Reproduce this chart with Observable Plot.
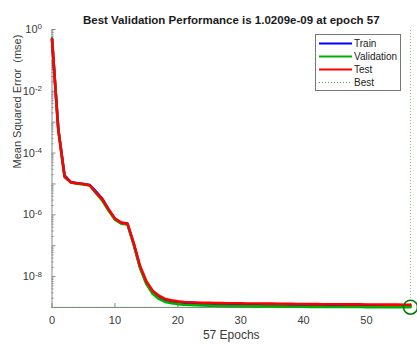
<!DOCTYPE html>
<html><head><meta charset="utf-8">
<script src="https://cdn.jsdelivr.net/npm/d3@7"></script>
<script src="https://cdn.jsdelivr.net/npm/@observablehq/plot@0.6"></script>
<style>
body{margin:0;background:#fff;}
#chart svg{font-family:"Liberation Sans",Arial,sans-serif;background:#fff;}
</style></head><body><div id="chart"></div>
<script>
const titleText = "Best Validation Performance is 1.0209e-09 at epoch 57";
const xLabel = "57 Epochs";
const yLabel = "Mean Squared Error  (mse)";
const seriesNames = ["Train", "Validation", "Test"];
const seriesColors = ["#0000ff", "#00b000", "#ff0000"];
const bestLabel = "Best";
const bestEpoch = 57;
const bestPerf = 1.0209e-9;
const xTicks = [0, 10, 20, 30, 40, 50];
const yTicks = [1, 1e-2, 1e-4, 1e-6, 1e-8];
const yTickLabels = ["10^0", "10^-2", "10^-4", "10^-6", "10^-8"];

const trainPerf = [0.49, 6.2e-4, 1.9e-5, 1.15e-5, 1.05e-5, 1.0e-5, 9.2e-6, 5.6e-6, 3.3e-6, 1.5e-6,
 7.4e-7, 5.5e-7, 5.1e-7, 1.15e-7, 2.0e-8, 6.2e-9, 3.0e-9, 2.1e-9, 1.7e-9, 1.55e-9,
 1.45e-9, 1.38e-9, 1.35e-9, 1.32e-9, 1.30e-9, 1.28e-9, 1.27e-9, 1.26e-9, 1.25e-9, 1.24e-9,
 1.23e-9, 1.22e-9, 1.21e-9, 1.21e-9, 1.20e-9, 1.19e-9, 1.19e-9, 1.18e-9, 1.18e-9, 1.17e-9,
 1.17e-9, 1.16e-9, 1.16e-9, 1.16e-9, 1.15e-9, 1.15e-9, 1.15e-9, 1.14e-9, 1.14e-9, 1.14e-9,
 1.13e-9, 1.13e-9, 1.13e-9, 1.13e-9, 1.12e-9, 1.12e-9, 1.12e-9, 1.12e-9];

const valPerf = [0.52, 5.6e-4, 1.68e-5, 1.11e-5, 1.02e-5, 9.7e-6, 8.9e-6, 5.0e-6, 2.9e-6, 1.35e-6,
 7.0e-7, 5.2e-7, 4.9e-7, 1.05e-7, 1.9e-8, 5.8e-9, 2.8e-9, 1.9e-9, 1.52e-9, 1.37e-9,
 1.29e-9, 1.23e-9, 1.20e-9, 1.18e-9, 1.16e-9, 1.15e-9, 1.14e-9, 1.13e-9, 1.12e-9, 1.11e-9,
 1.10e-9, 1.10e-9, 1.09e-9, 1.09e-9, 1.08e-9, 1.08e-9, 1.07e-9, 1.07e-9, 1.06e-9, 1.06e-9,
 1.06e-9, 1.05e-9, 1.05e-9, 1.05e-9, 1.04e-9, 1.04e-9, 1.04e-9, 1.04e-9, 1.035e-9, 1.035e-9,
 1.03e-9, 1.03e-9, 1.03e-9, 1.028e-9, 1.026e-9, 1.024e-9, 1.022e-9, 1.0209e-9];

const testPerf = [0.49, 5.6e-4, 1.74e-5, 1.12e-5, 1.05e-5, 1.0e-5, 9.1e-6, 5.2e-6, 3.2e-6, 1.5e-6,
 7.6e-7, 5.6e-7, 5.2e-7, 1.2e-7, 2.2e-8, 7.1e-9, 3.5e-9, 2.4e-9, 1.9e-9, 1.7e-9,
 1.58e-9, 1.51e-9, 1.48e-9, 1.45e-9, 1.43e-9, 1.41e-9, 1.40e-9, 1.39e-9, 1.38e-9, 1.37e-9,
 1.36e-9, 1.35e-9, 1.35e-9, 1.34e-9, 1.33e-9, 1.33e-9, 1.32e-9, 1.31e-9, 1.31e-9, 1.30e-9,
 1.30e-9, 1.29e-9, 1.29e-9, 1.28e-9, 1.28e-9, 1.27e-9, 1.27e-9, 1.26e-9, 1.26e-9, 1.26e-9,
 1.25e-9, 1.25e-9, 1.25e-9, 1.24e-9, 1.24e-9, 1.24e-9, 1.23e-9, 1.23e-9];

const perfBySeries = [trainPerf, valPerf, testPerf];
const rows = [];
seriesNames.forEach((s, si) => perfBySeries[si].forEach((v, i) => rows.push({epoch: i, perf: v, series: s})));

const minorY = [];
for (let k = -9; k < 0; k++) for (let m = 2; m < 10; m++) minorY.push(m * Math.pow(10, k));
const oddDecades = [1e-1, 1e-3, 1e-5, 1e-7, 1e-9];

const axisColor = "#8a8a8a";
const textColor = "#3a3a3a";
const yMin = 1e-9, yMax = 1, xMin = 0, xMax = 57;

const plot = Plot.plot({
  width: 417, height: 346,
  marginLeft: 51.5, marginRight: 7, marginTop: 29, marginBottom: 39,
  x: {domain: [xMin, xMax], axis: null},
  y: {type: "log", domain: [yMin, yMax], axis: null},
  color: {domain: seriesNames, range: seriesColors},
  style: {fontFamily: "'Liberation Sans', Arial, sans-serif", background: "#fff"},
  marks: [
    Plot.ruleX([xMin], {y1: yMin, y2: yMax, stroke: axisColor, strokeWidth: 1}),
    Plot.ruleY([yMin], {x1: xMin, x2: xMax, stroke: axisColor, strokeWidth: 1}),
    Plot.axisX({ticks: xTicks, tickSize: -4, tickFormat: () => "", stroke: axisColor, label: null}),
    Plot.axisX({ticks: xTicks, tickSize: 0, tickPadding: 9, fontSize: 11, fill: textColor, label: null}),
    Plot.axisY({ticks: yTicks.concat(oddDecades), tickSize: -4, tickFormat: () => "", stroke: axisColor, label: null}),
    Plot.axisY({ticks: minorY, tickSize: -2, tickFormat: () => "", stroke: axisColor, label: null}),
    Plot.axisY({ticks: yTicks, tickSize: 0, tickPadding: 10, fontSize: 11, fill: textColor, label: null,
      tickFormat: d => yTickLabels[yTicks.indexOf(d)]}),
    Plot.ruleY([bestPerf], {x1: xMin, x2: bestEpoch, stroke: "#3cae3c", strokeWidth: 1, strokeDasharray: "1,2"}),
    Plot.ruleX([bestEpoch], {y1: yMin, y2: yMax, stroke: "#3cae3c", strokeWidth: 1, strokeDasharray: "1,2", strokeOpacity: 0.7}),
    Plot.line(rows, {x: "epoch", y: "perf", stroke: "series", z: "series", strokeWidth: 2.6}),
    Plot.dot([{epoch: bestEpoch, perf: bestPerf}], {x: "epoch", y: "perf", r: 7, stroke: "#007a00", strokeWidth: 1.6, fill: "none"}),
    Plot.text([titleText], {frameAnchor: "top", dy: -14, fontSize: 11.5, fontWeight: "bold", fill: "#1a1a1a"}),
    Plot.text([xLabel], {frameAnchor: "bottom", dy: 31, fontSize: 12, fill: textColor}),
    Plot.text([yLabel], {frameAnchor: "left", dx: -35, rotate: -90, fontSize: 11, fill: textColor})
  ]
});
document.getElementById("chart").appendChild(plot);

const svg = d3.select(plot);
svg.selectAll("text").each(function () {
  const t = d3.select(this);
  const s = t.text();
  if (/^10\^-?\d+$/.test(s)) {
    const [base, exp] = s.split("^");
    t.text(base);
    t.append("tspan").attr("dy", "-0.45em").attr("font-size", "8px").text(exp);
  }
});

const lg = svg.append("g").attr("font-family", "'Liberation Sans', Arial, sans-serif")
  .attr("font-size", 10).attr("text-anchor", "start");
lg.append("rect").attr("x", 315.5).attr("y", 34.5).attr("width", 85).attr("height", 56)
  .attr("fill", "#fff").attr("stroke", "#777").attr("stroke-width", 1);
const legendItems = seriesNames.map((s, i) => ({label: s, color: seriesColors[i], dash: null}))
  .concat([{label: bestLabel, color: "#3cae3c", dash: "1,2"}]);
legendItems.forEach((it, i) => {
  const y = 43.5 + i * 13;
  lg.append("line").attr("x1", 319).attr("x2", 352).attr("y1", y).attr("y2", y)
    .attr("stroke", it.color).attr("stroke-width", it.dash ? 1 : 2)
    .attr("stroke-dasharray", it.dash);
  lg.append("text").attr("x", 354).attr("y", y).attr("dy", "0.35em")
    .attr("text-anchor", "start").attr("fill", "#222").text(it.label);
});
</script></body></html>
